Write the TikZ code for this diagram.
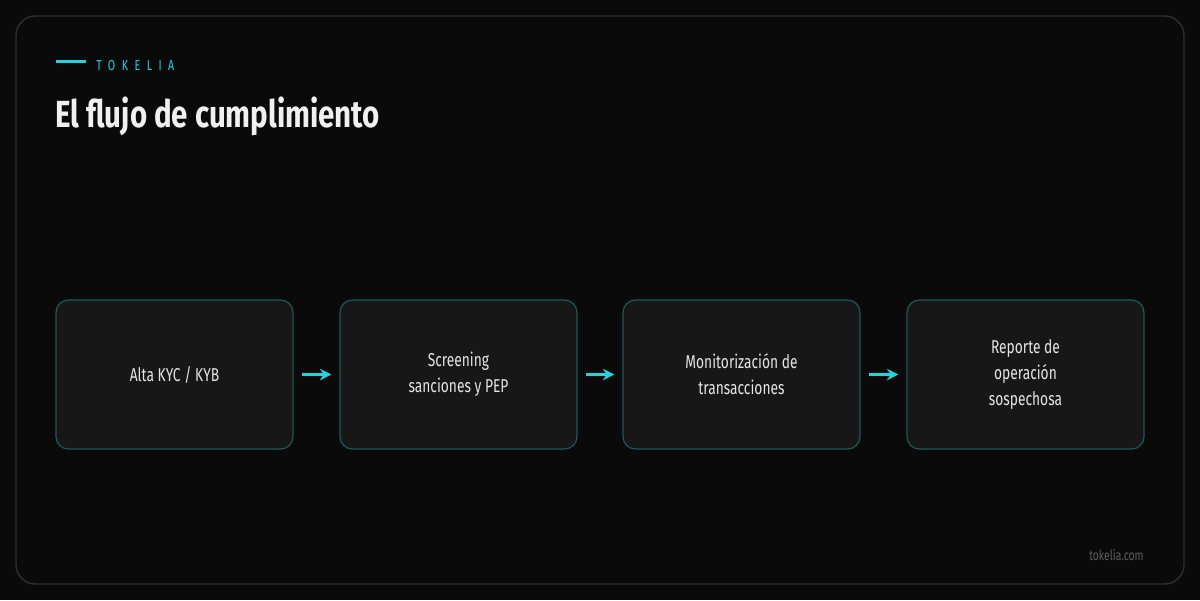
\documentclass[tikz,border=0pt]{standalone}
\usepackage{fontspec}
\setmainfont{Fira Sans}[FakeStretch=0.74]
\newfontfamily\titlefont{Fira Sans Bold}[FakeStretch=0.78]
\usetikzlibrary{arrows.meta}
\definecolor{pagebg}{HTML}{0A0A0A}
\definecolor{framegray}{HTML}{2E2E2E}
\definecolor{boxfill}{HTML}{171717}
\definecolor{boxedge}{HTML}{1E5558}
\definecolor{accent}{HTML}{22D3E0}
\definecolor{mutedgray}{HTML}{5E5E5E}
\tikzset{
  stagebox/.style={draw=boxedge, fill=boxfill, rounded corners=7pt, line width=0.7pt,
    minimum width=4.74cm, minimum height=2.98cm, align=center,
    text=white!90!black, font=\fontsize{10.6}{14.7}\selectfont},
  flowarrow/.style={-{Stealth[length=6.5pt,width=6.5pt]}, accent, line width=1.2pt,
    shorten <=0.16cm, shorten >=0.16cm}
}
\begin{document}
\begin{tikzpicture}[x=0.02cm,y=-0.02cm]
        \fill[pagebg] (0,0) rectangle (1200,600);
        \useasboundingbox (0,0) rectangle (1200,600);
        \draw[framegray, line width=0.8pt, rounded corners=11pt] (16,16) rectangle (1184,584);
        % header
        \draw[accent, line width=1.7pt] (56,61) -- (86,61);
        \node[anchor=west, inner sep=0, text=accent, font=\fontsize{8.2}{9}\selectfont\addfontfeature{LetterSpace=45}] (brand) at (96,66) {TOKELIA};
        \node[anchor=base west, inner sep=0, text=white!94!black, font=\fontsize{21.5}{24}\titlefont] (title) at (55,127) {El flujo de cumplimiento};
        % stages
        \node[stagebox] (alta) at (174.5,374.5) {Alta KYC / KYB};
        \node[stagebox] (screening) at (458.5,374.5) {Screening\\sanciones y PEP};
        \node[stagebox] (monitor) at (741.5,374.5) {Monitorización de\\transacciones};
        \node[stagebox] (reporte) at (1025.5,374.5) {Reporte de\\operación\\sospechosa};
        \draw[flowarrow] (alta) -- (screening);
        \draw[flowarrow] (screening) -- (monitor);
        \draw[flowarrow] (monitor) -- (reporte);
        % footer
        \node[anchor=east, inner sep=0, text=mutedgray, font=\fontsize{8}{9}\selectfont] (site) at (1144,555) {tokelia.com};
\end{tikzpicture}
\end{document}
